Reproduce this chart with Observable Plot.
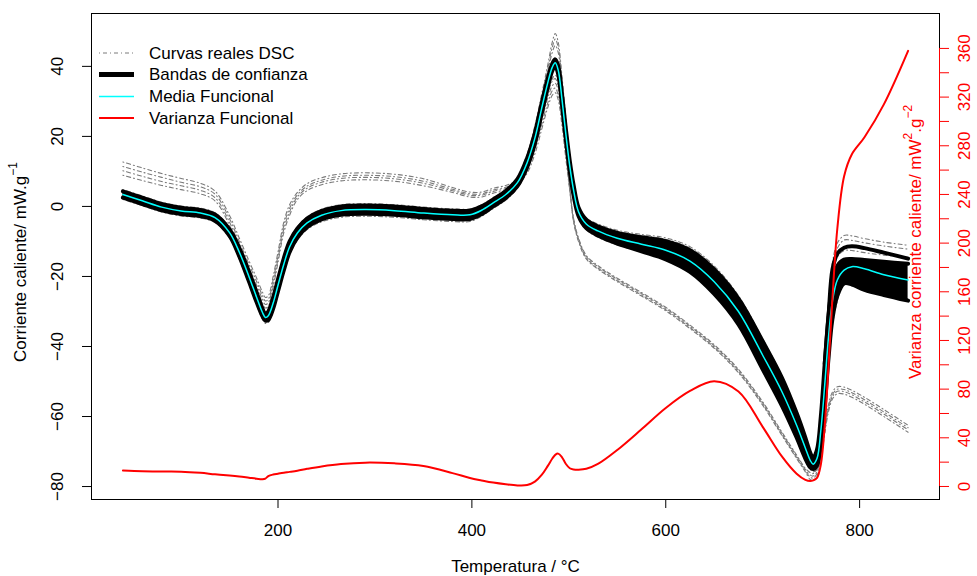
<!DOCTYPE html>
<html><head><meta charset="utf-8">
<script src="https://cdn.jsdelivr.net/npm/d3@7"></script>
<script src="https://cdn.jsdelivr.net/npm/@observablehq/plot@0.6"></script>
<style>
body{margin:0;background:#fff}
#chart svg{font-family:"Liberation Sans",Arial,Helvetica,sans-serif}
</style>
</head><body><div id="chart"></div>
<script>
// Temperature grid (°C)
const temperatura = [40, 60, 80, 100, 120, 135, 150, 160, 170, 178, 184, 187, 190, 195, 200, 206, 212, 220, 230, 245, 265, 290, 320, 350, 380, 398, 410, 422, 435, 447, 457, 465, 472, 478, 483, 486, 489, 493, 497, 501, 505, 510, 518, 530, 550, 575, 600, 625, 650, 675, 700, 720, 735, 744, 749, 752, 756, 760, 764, 768, 772, 777, 784, 792, 805, 825, 850];

// Functional mean (cyan)
const mediaFuncional = [3.4, 1.6, -0.2, -1.3, -1.9, -3.2, -7.5, -13.0, -20.0, -26.0, -30.3, -31.7, -31.2, -27.6, -22.5, -16.5, -11.5, -7.6, -4.7, -2.5, -1.2, -0.9, -1.2, -1.9, -2.4, -2.4, -1.1, 1.0, 3.4, 6.8, 12.5, 19.5, 28.0, 35.0, 39.8, 41.0, 39.0, 30.5, 20.5, 11.5, 4.5, -1.5, -5.0, -7.0, -9.1, -10.8, -12.5, -15.6, -21.5, -30.0, -42.5, -53.0, -62.5, -69.0, -72.5, -73.6, -72.0, -64.0, -51.0, -37.0, -27.0, -21.0, -18.2, -17.2, -17.8, -19.5, -21.0];

// Confidence band (black)
const bandaSuperior = [4.3, 2.5, 0.7, -0.4, -1.0, -2.3, -6.6, -11.8, -18.6, -24.6, -29.2, -30.8, -30.0, -26.0, -20.8, -14.8, -10.0, -6.3, -3.5, -1.3, 0.0, 0.3, 0.0, -0.7, -1.2, -1.2, 0.0, 2.0, 4.4, 7.8, 13.8, 21.0, 29.5, 36.3, 40.8, 42.0, 40.2, 32.0, 22.0, 13.0, 6.0, -0.3, -3.8, -5.7, -7.6, -8.8, -9.9, -12.5, -18.0, -26.3, -38.5, -49.0, -59.0, -66.0, -70.3, -71.8, -69.5, -60.0, -45.0, -31.0, -22.0, -17.0, -15.2, -15.0, -15.3, -15.8, -16.4];
const bandaInferior = [2.5, 0.7, -1.1, -2.2, -2.8, -4.1, -8.4, -14.2, -21.4, -27.4, -31.4, -32.6, -32.4, -29.2, -24.2, -18.2, -13.0, -8.9, -5.9, -3.7, -2.4, -2.1, -2.4, -3.1, -3.6, -3.6, -2.2, 0.0, 2.4, 5.8, 11.2, 18.0, 26.5, 33.7, 38.8, 40.0, 37.8, 29.0, 19.0, 10.0, 3.0, -2.7, -6.2, -8.3, -10.6, -12.8, -15.1, -18.7, -25.0, -33.7, -46.5, -57.0, -66.0, -72.0, -74.5, -75.0, -74.0, -68.0, -57.0, -43.0, -32.0, -25.5, -22.0, -22.3, -23.8, -25.3, -26.9];
// Outlying upper band line at the end
const temperaturaExtremo = [764, 768, 772, 777, 784, 792, 805, 825, 850];
const bandaExtremo = [-45.0, -31.0, -18.0, -13.5, -11.8, -11.4, -11.9, -13.2, -14.9];

// Real DSC curves (grey)
const curvaA1 = [12.7, 11.0, 9.4, 8.0, 6.6, 4.4, -2.6, -9.0, -15.5, -20.5, -24.5, -26.0, -25.5, -20.0, -13.0, -4.5, 0.5, 4.0, 6.5, 8.2, 9.3, 9.6, 9.2, 7.9, 5.4, 4.1, 4.1, 5.2, 6.0, 7.7, 13.5, 19.0, 26.0, 32.0, 35.8, 36.5, 34.5, 27.0, 17.5, 5.5, -3.5, -9.0, -14.0, -16.9, -20.5, -24.6, -28.8, -33.9, -39.5, -46.5, -55.8, -64.5, -71.0, -74.8, -76.0, -76.3, -75.0, -70.5, -63.0, -56.5, -53.0, -51.5, -51.6, -52.5, -54.5, -58.0, -62.5];
const curvaA2 = [11.4, 9.8, 8.3, 6.9, 5.6, 3.5, -3.5, -10.0, -16.5, -21.5, -25.5, -27.0, -26.5, -21.0, -14.0, -5.5, -0.5, 3.3, 5.8, 7.5, 8.6, 8.9, 8.5, 7.2, 4.9, 3.6, 3.6, 4.7, 5.5, 7.2, 12.2, 17.7, 24.7, 30.7, 34.5, 35.2, 33.2, 25.7, 16.2, 5.2, -3.8, -9.3, -14.3, -17.2, -20.8, -24.9, -29.1, -34.2, -39.8, -46.8, -56.1, -64.8, -71.3, -75.1, -76.7, -77.0, -75.7, -71.2, -63.7, -57.2, -53.7, -52.2, -52.3, -53.2, -55.2, -58.7, -63.2];
const curvaA3 = [10.2, 8.6, 7.1, 5.9, 4.6, 2.5, -4.5, -11.0, -17.5, -22.5, -26.5, -28.0, -27.5, -22.0, -15.0, -6.5, -1.5, 2.7, 5.2, 6.9, 8.0, 8.3, 7.9, 6.6, 4.5, 3.2, 3.2, 4.3, 5.1, 6.8, 10.8, 16.3, 23.3, 29.3, 33.1, 33.8, 31.8, 24.3, 14.8, 4.8, -4.2, -9.7, -14.7, -17.6, -21.2, -25.3, -29.5, -34.6, -40.2, -47.2, -56.5, -65.2, -71.7, -75.5, -77.3, -77.6, -76.3, -71.8, -64.3, -57.8, -54.3, -52.8, -52.9, -53.8, -55.8, -59.3, -63.8];
const curvaA4 = [8.9, 7.4, 6.0, 4.8, 3.6, 1.6, -5.4, -12.0, -18.5, -23.5, -27.5, -29.0, -28.5, -23.0, -16.0, -7.5, -2.5, 2.0, 4.5, 6.2, 7.3, 7.6, 7.2, 5.9, 4.0, 2.7, 2.7, 3.8, 4.6, 6.3, 9.5, 15.0, 22.0, 28.0, 31.8, 32.5, 30.5, 23.0, 13.5, 4.5, -4.5, -10.0, -15.0, -17.9, -21.5, -25.6, -29.8, -34.9, -40.5, -47.5, -56.8, -65.5, -72.0, -75.8, -78.0, -78.3, -77.0, -72.5, -65.0, -58.5, -55.0, -53.5, -53.6, -54.5, -56.5, -60.0, -64.5];
const curvaB1 = [4.8, 3.0, 1.2, 0.1, -0.5, -1.8, -6.0, -11.2, -18.0, -24.0, -28.6, -30.2, -29.4, -25.4, -20.2, -14.2, -9.4, -5.8, -3.0, -0.8, 0.5, 0.8, 0.5, -0.2, -0.7, -0.7, 0.5, 2.5, 4.9, 8.3, 15.0, 23.0, 32.0, 40.0, 47.0, 49.4, 47.0, 37.0, 25.0, 14.0, 6.5, 0.3, -3.2, -5.0, -6.8, -8.0, -9.0, -11.5, -17.0, -25.5, -37.8, -48.5, -58.5, -65.5, -69.8, -71.2, -68.5, -57.0, -42.0, -27.0, -16.0, -10.5, -8.3, -8.4, -9.2, -10.2, -11.1];
const curvaB2 = [4.0, 2.2, 0.4, -0.7, -1.3, -2.6, -6.8, -12.0, -19.0, -25.0, -29.6, -31.2, -30.6, -26.6, -21.4, -15.3, -10.4, -6.6, -3.8, -1.6, -0.3, 0.0, -0.3, -1.0, -1.5, -1.5, -0.3, 1.7, 4.1, 7.5, 14.0, 21.5, 30.0, 38.0, 44.0, 46.0, 44.0, 35.0, 23.5, 13.0, 5.5, -0.5, -4.0, -5.8, -7.6, -8.8, -10.0, -12.6, -18.0, -26.5, -38.8, -49.5, -59.5, -66.5, -70.6, -72.0, -69.5, -59.0, -45.0, -31.0, -20.0, -14.5, -12.6, -12.6, -13.2, -13.9, -14.5];
const curvaB3 = [2.0, 0.2, -1.6, -2.7, -3.3, -4.6, -9.0, -15.0, -22.2, -28.2, -32.2, -33.4, -33.2, -30.0, -25.0, -19.0, -13.8, -9.6, -6.6, -4.4, -3.1, -2.8, -3.1, -3.8, -4.3, -4.3, -2.8, -0.6, 1.8, 5.2, 10.5, 17.0, 25.0, 32.0, 36.5, 37.5, 36.0, 28.0, 18.0, 9.3, 2.4, -3.2, -6.7, -8.8, -11.0, -13.0, -15.0, -18.5, -24.5, -33.0, -47.0, -57.5, -66.5, -72.5, -75.0, -75.8, -75.0, -70.0, -59.0, -45.0, -34.0, -27.0, -21.5, -21.8, -23.3, -24.8, -26.4];
const curvaB4 = [4.4, 2.6, 0.8, -0.3, -0.9, -2.2, -6.4, -11.6, -18.4, -24.4, -29.0, -30.6, -29.9, -25.9, -20.7, -14.7, -9.8, -6.2, -3.4, -1.2, 0.1, 0.4, 0.1, -0.6, -1.1, -1.1, 0.1, 2.1, 4.5, 7.9, 14.5, 22.3, 31.0, 39.0, 45.5, 47.8, 45.5, 36.0, 24.3, 13.5, 6.0, 0.0, -3.5, -5.3, -7.1, -8.3, -9.4, -11.9, -17.4, -25.9, -38.2, -48.9, -58.9, -65.9, -70.2, -71.6, -69.0, -58.0, -43.5, -29.0, -18.0, -12.0, -9.6, -9.7, -10.4, -11.3, -12.2];

// Functional variance (red, right axis)
const varianzaFuncional = [13.1, 12.5, 12.3, 12.2, 11.2, 10.0, 9.0, 8.2, 7.2, 6.4, 6.0, 6.5, 8.5, 9.8, 10.5, 11.3, 12.0, 13.0, 14.5, 16.5, 18.5, 19.6, 19.0, 16.8, 11.0, 7.0, 5.0, 3.2, 1.8, 0.9, 1.2, 4.0, 9.5, 16.5, 23.0, 26.0, 27.0, 24.0, 18.5, 15.0, 14.0, 13.8, 14.5, 18.5, 30.0, 47.0, 64.5, 78.5, 86.5, 78.0, 49.0, 24.5, 10.5, 5.5, 4.5, 5.0, 7.0, 18.0, 50.0, 100.0, 155.0, 212.0, 255.0, 273.0, 287.0, 314.0, 358.0];

// Ticks
const xTicks = [200, 400, 600, 800];
const yTicksLeft = [-80, -60, -40, -20, 0, 20, 40];
const yTicksRight = [0, 20, 40, 60, 80, 100, 120, 140, 160, 180, 200, 220, 240, 260, 280, 300, 320, 340, 360];

// Legend
const legendLabels = ["Curvas reales DSC", "Bandas de confianza", "Media Funcional", "Varianza Funcional"];

// Scales
const X_DOMAIN = [7.6, 882.4];
const Y_DOMAIN = [-83.7, 55.1];
const V_DOMAIN = [-10.7, 388.7];
const toLeft = v => Y_DOMAIN[0] + (v - V_DOMAIN[0]) * (Y_DOMAIN[1] - Y_DOMAIN[0]) / (V_DOMAIN[1] - V_DOMAIN[0]);
const fmt = d => d < 0 ? "\u2212" + Math.abs(d) : String(d);

const rows = temperatura.map((t, i) => ({t, media: mediaFuncional[i], sup: bandaSuperior[i], inf: bandaInferior[i], varz: varianzaFuncional[i]}));
const extremoRows = temperaturaExtremo.map((t, i) => ({t, v: bandaExtremo[i]}));
const grayRows = [];
[["A1", curvaA1], ["A2", curvaA2], ["A3", curvaA3], ["A4", curvaA4], ["B1", curvaB1], ["B2", curvaB2], ["B3", curvaB3], ["B4", curvaB4]].forEach(([k, arr]) => {
  arr.forEach((v, i) => grayRows.push({curve: k, t: temperatura[i], v}));
});

const FONT = 17;
const CURVE = "catmull-rom";
const GRAY = "#7a7a7a";

const plot = Plot.plot({
  width: 977, height: 576,
  marginLeft: 91, marginRight: 38, marginTop: 13, marginBottom: 77,
  style: {fontFamily: '"Liberation Sans", Arial, Helvetica, sans-serif', fontSize: FONT + "px", background: "white", color: "black"},
  x: {domain: X_DOMAIN},
  y: {domain: Y_DOMAIN},
  marks: [
    Plot.line(grayRows, {x: "t", y: "v", z: "curve", stroke: GRAY, strokeWidth: 1.1, strokeDasharray: "1,3,4,3", curve: CURVE}),
    Plot.areaY(rows, {x: "t", y1: "inf", y2: "sup", fill: "black", curve: CURVE}),
    Plot.line(rows, {x: "t", y: "sup", stroke: "black", strokeWidth: 4, curve: CURVE}),
    Plot.line(rows, {x: "t", y: "inf", stroke: "black", strokeWidth: 4, curve: CURVE}),
    Plot.line(extremoRows, {x: "t", y: "v", stroke: "black", strokeWidth: 4, curve: CURVE}),
    Plot.line(rows, {x: "t", y: "media", stroke: "cyan", strokeWidth: 1.5, curve: CURVE}),
    Plot.line(rows, {x: "t", y: d => toLeft(d.varz), stroke: "red", strokeWidth: 2, curve: CURVE}),
    Plot.frame({stroke: "black"}),
    // bottom axis
    Plot.axisX(xTicks, {anchor: "bottom", tickSize: 9, fill: "none", label: null}),
    Plot.text(xTicks, {x: d => d, frameAnchor: "bottom", dy: 31, text: d => String(d), fontSize: FONT, lineAnchor: "middle"}),
    Plot.text(["Temperatura / \u00b0C"], {frameAnchor: "bottom", dy: 67, fontSize: FONT, lineAnchor: "middle"}),
    // left axis
    Plot.axisY(yTicksLeft, {anchor: "left", tickSize: 9, fill: "none", label: null}),
    Plot.text(yTicksLeft, {y: d => d, frameAnchor: "left", dx: -34, rotate: -90, text: fmt, fontSize: FONT, lineAnchor: "middle", textAnchor: "middle"}),
    // right axis (variance)
    Plot.ruleX([X_DOMAIN[1]], {x: d => d, y1: () => toLeft(0), y2: () => toLeft(360), stroke: "red"}),
    Plot.axisY(yTicksRight.map(toLeft), {anchor: "right", tickSize: 9, stroke: "red", fill: "none", label: null}),
    Plot.text(yTicksRight.filter(v => v % 40 === 0), {y: v => toLeft(v), frameAnchor: "right", dx: 25, rotate: -90, text: d => String(d), fill: "red", fontSize: FONT, lineAnchor: "middle", textAnchor: "middle"})
  ]
});
document.getElementById("chart").appendChild(plot);

// Axis titles with superscripts and legend
const svg = d3.select(plot);
const leftTitle = svg.append("text")
  .attr("transform", "translate(20,262) rotate(-90)")
  .attr("text-anchor", "middle").attr("dominant-baseline", "central")
  .attr("font-size", FONT).attr("fill", "black");
leftTitle.append("tspan").text("Corriente caliente/ mW.g");
leftTitle.append("tspan").attr("dy", -7).attr("font-size", 12).text("\u22121");

const rightTitle = svg.append("text")
  .attr("transform", "translate(915,242) rotate(-90)")
  .attr("text-anchor", "middle").attr("dominant-baseline", "central")
  .attr("font-size", FONT).attr("fill", "red");
rightTitle.append("tspan").text("Varianza corriente caliente/ mW");
rightTitle.append("tspan").attr("dy", -7).attr("font-size", 12).text("2");
rightTitle.append("tspan").attr("dy", 7).text(".g");
rightTitle.append("tspan").attr("dy", -7).attr("font-size", 12).text("\u22122");

const legendY = [53, 74.5, 96.5, 118];
const legendStyles = [
  {stroke: GRAY, width: 1, dash: "1,3,4,3"},
  {stroke: "black", width: 5, dash: null},
  {stroke: "cyan", width: 1.5, dash: null},
  {stroke: "red", width: 2, dash: null}
];
const lg = svg.append("g").attr("text-anchor", "start");
legendLabels.forEach((lab, i) => {
  const s = legendStyles[i];
  const ln = lg.append("line").attr("x1", 99).attr("x2", 134).attr("y1", legendY[i]).attr("y2", legendY[i])
    .attr("stroke", s.stroke).attr("stroke-width", s.width);
  if (s.dash) ln.attr("stroke-dasharray", s.dash);
  lg.append("text").attr("x", 149).attr("y", legendY[i]).attr("dominant-baseline", "central")
    .attr("text-anchor", "start")
    .attr("font-size", FONT).attr("fill", "black").text(lab);
});
</script>
</body></html>
